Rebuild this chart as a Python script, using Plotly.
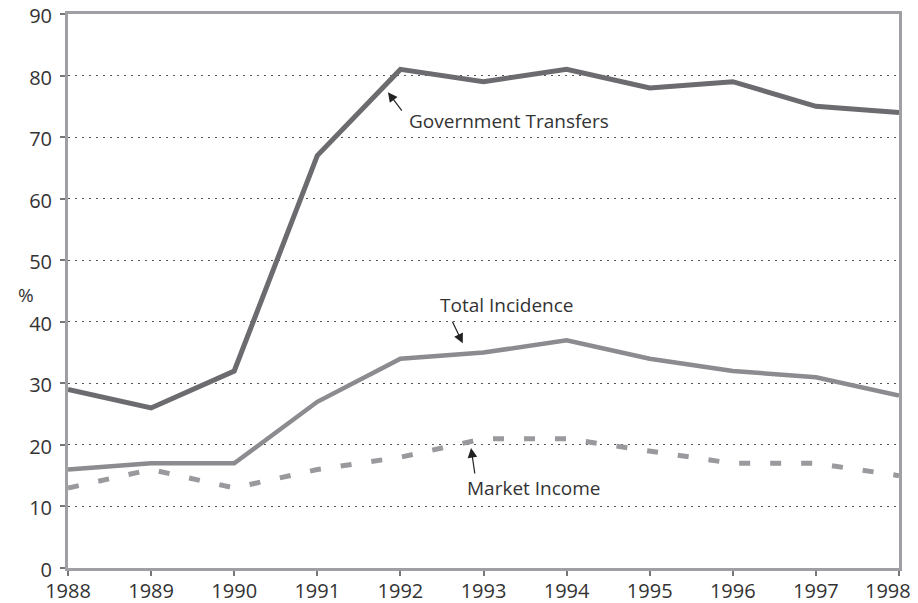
import plotly.graph_objects as go

years = [1988, 1989, 1990, 1991, 1992, 1993, 1994, 1995, 1996, 1997, 1998]
gov_transfers = [29, 26, 32, 67, 81, 79, 81, 78, 79, 75, 74]
total_incidence = [16, 17, 17, 27, 34, 35, 37, 34, 32, 31, 28]
market_income = [13, 16, 13, 16, 18, 21, 21, 19, 17, 17, 15]
y_ticks = [0, 10, 20, 30, 40, 50, 60, 70, 80, 90]

FONT = "Open Sans"
FSIZE = 19
TICKSIZE = 20

fig = go.Figure()

fig.add_trace(go.Scatter(
    x=years, y=market_income, mode="lines", name="Market Income",
    line=dict(color="#9a9a9e", width=5, dash="11px,20px")
))
fig.add_trace(go.Scatter(
    x=years, y=total_incidence, mode="lines", name="Total Incidence",
    line=dict(color="#8b8b90", width=4.5)
))
fig.add_trace(go.Scatter(
    x=years, y=gov_transfers, mode="lines", name="Government Transfers",
    line=dict(color="#6b6b70", width=5)
))

# labels with arrows
labels = [
    # text, text x, text y, anchor, arrow tip x, arrow tip y, tail offset (px)
    ("Government Transfers", 1992.08, 72.6, "left", 1991.85, 77.3, 15, 20),
    ("Total Incidence", 1993.28, 42.7, "center", 1992.75, 36.5, -11, -23),
    ("Market Income", 1992.78, 13.0, "left", 1992.85, 19.5, 4, 27),
]
for text, tx, ty, anchor, ax_, ay_, dx, dy in labels:
    fig.add_annotation(
        x=ax_, y=ay_, ax=dx, ay=dy, text="", showarrow=True,
        arrowhead=2, arrowsize=1.6, arrowwidth=1.2, arrowcolor="#222222"
    )
    fig.add_annotation(
        x=tx, y=ty, text=text, showarrow=False, xanchor=anchor,
        font=dict(family=FONT, size=FSIZE, color="#333333")
    )

fig.add_annotation(
    xref="paper", yref="paper", x=-0.062, y=0.493, text="%", showarrow=False,
    font=dict(family=FONT, size=FSIZE, color="#333333")
)

# last year label is drawn right-aligned so it stays inside the page
x_labels = [str(y) for y in years]
fig.add_annotation(
    x=years[-1], xref="x", y=0, yref="paper", text=x_labels[-1],
    showarrow=False, xanchor="right", yanchor="middle", xshift=14, yshift=-22,
    font=dict(family=FONT, size=TICKSIZE, color="#333333")
)
x_labels[-1] = ""

# page body has an 8px margin, so the figure starts at (8, 8)
fig.update_layout(
    width=910, height=595,
    margin=dict(l=60, r=19, t=6, b=35),
    paper_bgcolor="white", plot_bgcolor="white",
    showlegend=False,
    font=dict(family=FONT, size=FSIZE, color="#333333"),
)

fig.update_xaxes(
    range=[1988, 1998], tickmode="array", tickvals=years,
    ticktext=x_labels,
    showgrid=False, zeroline=False, automargin=False,
    ticklabeloverflow="allow", ticklabelstandoff=-2,
    showline=True, linecolor="#a0a0a4", linewidth=3, mirror=True,
    ticks="outside", ticklen=5, tickcolor="#777777", tickwidth=1.5,
    tickfont=dict(family=FONT, size=TICKSIZE, color="#333333")
)
fig.update_yaxes(
    range=[0, 90], tickmode="array", tickvals=y_ticks,
    showgrid=True, gridcolor="#555555", gridwidth=1, griddash="2px,5px",
    zeroline=False, automargin=False,
    ticklabeloverflow="allow", ticklabelstandoff=4, ticklabelshift=2,
    showline=True, linecolor="#a0a0a4", linewidth=3, mirror=True,
    ticks="outside", ticklen=5, tickcolor="#777777", tickwidth=1.5,
    tickfont=dict(family=FONT, size=TICKSIZE, color="#333333")
)

fig.write_html("out.html")
